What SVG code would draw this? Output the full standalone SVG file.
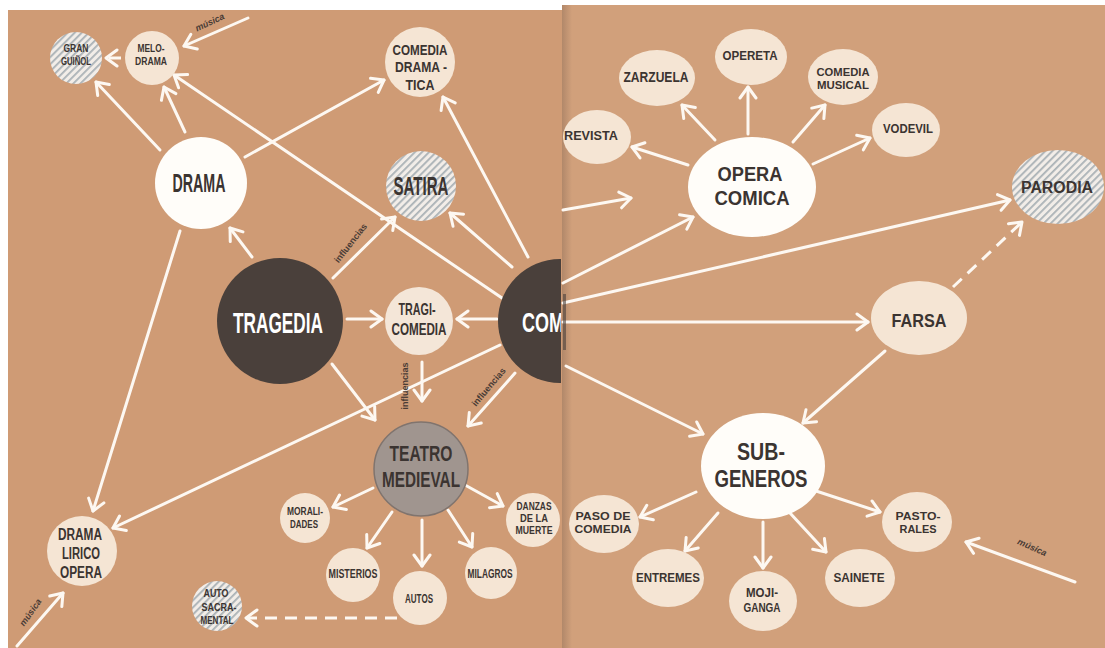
<svg xmlns="http://www.w3.org/2000/svg" width="1105" height="648" viewBox="0 0 1105 648">
<defs>
<style>
.t{font-family:"Liberation Sans",Arial,sans-serif;font-weight:bold;fill:#3b3431;text-anchor:middle}
.w{fill:#ffffff}
.lbl{font-family:"Liberation Sans",Arial,sans-serif;font-weight:bold;fill:#4a3c35;font-size:9px;text-anchor:middle}
.mus{font-family:"Liberation Sans",Arial,sans-serif;font-style:italic;font-weight:bold;fill:#4a3c35;font-size:9px;text-anchor:middle}
.c{stroke:#fdf8f2;stroke-width:3;fill:none;stroke-linecap:round;marker-end:url(#ah)}
.d{stroke-dasharray:12 8;stroke-linecap:butt}
.cream{fill:#f5e5d4}
.white{fill:#fffdf9}
.dark{fill:#4a403b}
.hat{fill:url(#hatch)}
</style>
<pattern id="hatch" patternUnits="userSpaceOnUse" width="5" height="5" patternTransform="rotate(45)">
<rect width="5" height="5" fill="#f2ede8"/>
<rect width="1.8" height="5" fill="#aab2b6"/>
</pattern>
<marker id="ah" viewBox="-14 -10 16 20" refX="0" refY="0" markerWidth="16" markerHeight="20" markerUnits="userSpaceOnUse" orient="auto">
<path d="M-11,-8 L0,0 L-11,8" fill="none" stroke="#fdf8f2" stroke-width="3" stroke-linecap="round" stroke-linejoin="round"/>
</marker>
<clipPath id="leftpage"><rect x="0" y="0" width="561" height="648"/></clipPath>
<clipPath id="rightpage"><rect x="563" y="0" width="542" height="648"/></clipPath>
<linearGradient id="fold" x1="0" x2="1" y1="0" y2="0">
<stop offset="0" stop-color="#8a6a55" stop-opacity="0.45"/>
<stop offset="1" stop-color="#8a6a55" stop-opacity="0"/>
</linearGradient>
</defs>

<rect x="0" y="0" width="1105" height="648" fill="#ffffff"/>
<rect x="8" y="10" width="554" height="638" fill="#cf9b75"/>
<rect x="562" y="5" width="543" height="643" fill="#d1a07b"/>
<rect x="562" y="5" width="10" height="643" fill="url(#fold)"/>

<g id="connectors">
<line class="c" x1="248" y1="18" x2="184" y2="46"/>
<line class="c d" x1="121" y1="58" x2="106" y2="58"/>
<line class="c" x1="160" y1="150" x2="96" y2="82"/>
<line class="c" x1="185" y1="132" x2="164" y2="87"/>
<line class="c" x1="502" y1="298" x2="174" y2="75"/>
<line class="c" x1="245" y1="157" x2="384" y2="80"/>
<line class="c" x1="528" y1="257" x2="443" y2="97"/>
<line class="c" x1="252" y1="257" x2="230" y2="228"/>
<line class="c" x1="333" y1="278" x2="395" y2="217"/>
<line class="c" x1="512" y1="267" x2="450" y2="213"/>
<line class="c" x1="180" y1="231" x2="93" y2="511"/>
<line class="c" x1="500" y1="345" x2="113" y2="528"/>
<line class="c" x1="347" y1="319" x2="382" y2="319"/>
<line class="c" x1="497" y1="319" x2="457" y2="319"/>
<line class="c" x1="422" y1="362" x2="422" y2="401"/>
<line class="c" x1="332" y1="364" x2="375" y2="420"/>
<line class="c" x1="515" y1="373" x2="468" y2="426"/>
<line class="c" x1="373" y1="488" x2="333" y2="507"/>
<line class="c" x1="392" y1="512" x2="367" y2="548"/>
<line class="c" x1="422" y1="520" x2="422" y2="566"/>
<line class="c" x1="448" y1="510" x2="472" y2="547"/>
<line class="c" x1="465" y1="485" x2="503" y2="506"/>
<line class="c d" x1="397" y1="618" x2="246" y2="618"/>
<line class="c" x1="17" y1="646" x2="63" y2="593"/>
<line class="c" x1="563" y1="210" x2="631" y2="198"/>
<line class="c" x1="563" y1="283" x2="693" y2="217"/>
<line class="c" x1="563" y1="303" x2="1010" y2="200"/>
<line class="c" x1="563" y1="322" x2="868" y2="322"/>
<line class="c" x1="566" y1="366" x2="703" y2="434"/>
<line class="c" x1="885" y1="351" x2="803" y2="423"/>
<line class="c d" x1="953" y1="287" x2="1022" y2="222"/>
<line class="c" x1="688" y1="165" x2="632" y2="147"/>
<line class="c" x1="715" y1="140" x2="682" y2="105"/>
<line class="c" x1="748" y1="134" x2="748" y2="87"/>
<line class="c" x1="793" y1="142" x2="825" y2="105"/>
<line class="c" x1="813" y1="164" x2="870" y2="138"/>
<line class="c" x1="696" y1="492" x2="640" y2="517"/>
<line class="c" x1="718" y1="513" x2="685" y2="551"/>
<line class="c" x1="763" y1="522" x2="763" y2="568"/>
<line class="c" x1="790" y1="513" x2="826" y2="552"/>
<line class="c" x1="813" y1="490" x2="880" y2="512"/>
<line class="c" x1="1075" y1="582" x2="966" y2="542"/>
</g>

<g id="labels">
<text class="mus" transform="translate(211,25) rotate(-25)">música</text>
<text class="mus" transform="translate(33,614) rotate(-55)">música</text>
<text class="mus" transform="translate(1031,550) rotate(24)">música</text>
<text class="lbl" transform="translate(353,245) rotate(-52)">influencias</text>
<text class="lbl" transform="translate(408,386) rotate(-90)">influencias</text>
<text class="lbl" transform="translate(491,389) rotate(-50)">influencias</text>
</g>

<g id="gran-guinol"><circle class="hat" cx="76" cy="58" r="26"/>
<text class="t" x="76" y="52" font-size="10" textLength="25" lengthAdjust="spacingAndGlyphs">GRAN</text>
<text class="t" x="76" y="65" font-size="10" textLength="30" lengthAdjust="spacingAndGlyphs">GUIÑOL</text></g>
<g id="melodrama"><circle class="cream" cx="152" cy="58" r="27"/>
<text class="t" x="151" y="52" font-size="10" textLength="27" lengthAdjust="spacingAndGlyphs">MELO-</text>
<text class="t" x="151" y="65" font-size="10" textLength="32" lengthAdjust="spacingAndGlyphs">DRAMA</text></g>
<g id="comedia-dramatica"><circle class="cream" cx="420" cy="62" r="35"/>
<text class="t" x="420" y="55" font-size="15" textLength="55" lengthAdjust="spacingAndGlyphs">COMEDIA</text>
<text class="t" x="421" y="72" font-size="15" textLength="52" lengthAdjust="spacingAndGlyphs">DRAMA -</text>
<text class="t" x="420" y="90" font-size="15" textLength="29" lengthAdjust="spacingAndGlyphs">TICA</text></g>
<g id="drama"><circle class="white" cx="201" cy="183" r="46"/>
<text class="t" x="199" y="192" font-size="25" textLength="53" lengthAdjust="spacingAndGlyphs">DRAMA</text></g>
<g id="satira"><circle class="hat" cx="421" cy="186" r="35"/>
<text class="t" x="421" y="195" font-size="25" textLength="55" lengthAdjust="spacingAndGlyphs">SATIRA</text></g>
<g id="tragedia"><circle class="dark" cx="280" cy="321" r="63"/>
<text class="t w" x="278" y="333" font-size="29" textLength="90" lengthAdjust="spacingAndGlyphs">TRAGEDIA</text></g>
<g id="tragicomedia"><circle cx="419" cy="321" r="34" fill="#f4e6d8"/>
<text class="t" x="417" y="315" font-size="17" textLength="37" lengthAdjust="spacingAndGlyphs">TRAGI-</text>
<text class="t" x="419" y="335" font-size="17" textLength="55" lengthAdjust="spacingAndGlyphs">COMEDIA</text></g>
<g id="comedia" clip-path="url(#leftpage)"><circle class="dark" cx="560" cy="321" r="62"/>
<text class="t w" x="522" y="332" font-size="28" textLength="42" lengthAdjust="spacingAndGlyphs" style="text-anchor:start">COM</text></g>
<g id="comedia-edge"><rect x="563" y="294" width="3" height="56" fill="#4a403b" opacity="0.6"/></g>
<g id="teatro-medieval"><circle cx="421" cy="469" r="47" fill="#a0958f" stroke="#80746e" stroke-width="1.5"/>
<text class="t" x="421" y="461" font-size="22" textLength="63" lengthAdjust="spacingAndGlyphs">TEATRO</text>
<text class="t" x="421" y="487" font-size="22" textLength="78" lengthAdjust="spacingAndGlyphs">MEDIEVAL</text></g>
<g id="moralidades"><circle class="cream" cx="305" cy="518" r="25"/>
<text class="t" x="305" y="515" font-size="11.5" textLength="36" lengthAdjust="spacingAndGlyphs">MORALI-</text>
<text class="t" x="304" y="528" font-size="11.5" textLength="28" lengthAdjust="spacingAndGlyphs">DADES</text></g>
<g id="danzas"><circle class="cream" cx="533" cy="520" r="27"/>
<text class="t" x="534" y="510" font-size="10" textLength="35" lengthAdjust="spacingAndGlyphs">DANZAS</text>
<text class="t" x="534" y="522" font-size="10" textLength="28" lengthAdjust="spacingAndGlyphs">DE LA</text>
<text class="t" x="534" y="534" font-size="10" textLength="37" lengthAdjust="spacingAndGlyphs">MUERTE</text></g>
<g id="misterios"><circle class="cream" cx="353" cy="575" r="27"/>
<text class="t" x="353" y="578" font-size="12" textLength="49" lengthAdjust="spacingAndGlyphs">MISTERIOS</text></g>
<g id="autos"><circle class="cream" cx="420" cy="598" r="27"/>
<text class="t" x="419" y="603" font-size="12" textLength="28" lengthAdjust="spacingAndGlyphs">AUTOS</text></g>
<g id="milagros"><circle class="cream" cx="491" cy="573" r="26"/>
<text class="t" x="490" y="578" font-size="12" textLength="45" lengthAdjust="spacingAndGlyphs">MILAGROS</text></g>
<g id="auto-sacramental"><circle class="hat" cx="217" cy="606" r="25"/>
<text class="t" x="216" y="597" font-size="11" textLength="25" lengthAdjust="spacingAndGlyphs">AUTO</text>
<text class="t" x="219" y="611" font-size="11" textLength="35" lengthAdjust="spacingAndGlyphs">SACRA-</text>
<text class="t" x="217" y="624" font-size="11" textLength="33" lengthAdjust="spacingAndGlyphs">MENTAL</text></g>
<g id="drama-lirico"><circle class="cream" cx="82" cy="551" r="35"/>
<text class="t" x="80" y="540" font-size="16" textLength="44" lengthAdjust="spacingAndGlyphs">DRAMA</text>
<text class="t" x="81" y="559" font-size="16" textLength="38" lengthAdjust="spacingAndGlyphs">LIRICO</text>
<text class="t" x="81" y="578" font-size="16" textLength="42" lengthAdjust="spacingAndGlyphs">OPERA</text></g>

<g id="revista" clip-path="url(#rightpage)"><ellipse class="cream" cx="597" cy="137" rx="34" ry="27"/>
<text class="t" x="591" y="140" font-size="12" textLength="54" lengthAdjust="spacingAndGlyphs">REVISTA</text></g>
<g id="zarzuela"><ellipse class="cream" cx="657" cy="78" rx="38" ry="28"/>
<text class="t" x="656" y="82" font-size="14" textLength="65" lengthAdjust="spacingAndGlyphs">ZARZUELA</text></g>
<g id="opereta"><ellipse class="cream" cx="751" cy="57" rx="36" ry="28"/>
<text class="t" x="750" y="60" font-size="13" textLength="55" lengthAdjust="spacingAndGlyphs">OPERETA</text></g>
<g id="comedia-musical"><ellipse class="cream" cx="843" cy="77" rx="35" ry="28"/>
<text class="t" x="843" y="76" font-size="11.5" textLength="53" lengthAdjust="spacingAndGlyphs">COMEDIA</text>
<text class="t" x="843" y="89" font-size="11.5" textLength="52" lengthAdjust="spacingAndGlyphs">MUSICAL</text></g>
<g id="vodevil"><ellipse class="cream" cx="906" cy="130" rx="34" ry="27"/>
<text class="t" x="908" y="133" font-size="13" textLength="50" lengthAdjust="spacingAndGlyphs">VODEVIL</text></g>
<g id="opera-comica"><ellipse class="white" cx="752" cy="187" rx="64" ry="50"/>
<text class="t" x="750" y="181" font-size="21" textLength="65" lengthAdjust="spacingAndGlyphs">OPERA</text>
<text class="t" x="752" y="205" font-size="21" textLength="75" lengthAdjust="spacingAndGlyphs">COMICA</text></g>
<g id="parodia"><ellipse class="hat" cx="1058" cy="187" rx="46" ry="37"/>
<text class="t" x="1057" y="193" font-size="16" textLength="72" lengthAdjust="spacingAndGlyphs">PARODIA</text></g>
<g id="farsa"><ellipse class="cream" cx="919" cy="318" rx="48" ry="37"/>
<text class="t" x="919" y="327" font-size="18" textLength="55" lengthAdjust="spacingAndGlyphs">FARSA</text></g>
<g id="subgeneros"><ellipse class="white" cx="763" cy="466" rx="62" ry="53"/>
<text class="t" x="761" y="460" font-size="23" textLength="48" lengthAdjust="spacingAndGlyphs">SUB-</text>
<text class="t" x="761" y="487" font-size="23" textLength="93" lengthAdjust="spacingAndGlyphs">GENEROS</text></g>
<g id="paso-de-comedia"><ellipse class="cream" cx="604" cy="524" rx="35" ry="29"/>
<text class="t" x="603" y="520" font-size="11.5" textLength="55" lengthAdjust="spacingAndGlyphs">PASO DE</text>
<text class="t" x="603" y="533" font-size="11.5" textLength="57" lengthAdjust="spacingAndGlyphs">COMEDIA</text></g>
<g id="entremes"><ellipse class="cream" cx="668" cy="578" rx="36" ry="29"/>
<text class="t" x="668" y="582" font-size="12" textLength="64" lengthAdjust="spacingAndGlyphs">ENTREMES</text></g>
<g id="mojiganga"><ellipse class="cream" cx="763" cy="601" rx="34" ry="30"/>
<text class="t" x="762" y="597" font-size="12" textLength="32" lengthAdjust="spacingAndGlyphs">MOJI-</text>
<text class="t" x="762" y="612" font-size="12" textLength="37" lengthAdjust="spacingAndGlyphs">GANGA</text></g>
<g id="sainete"><ellipse class="cream" cx="860" cy="578" rx="35" ry="29"/>
<text class="t" x="859" y="582" font-size="12" textLength="51" lengthAdjust="spacingAndGlyphs">SAINETE</text></g>
<g id="pastorales"><ellipse class="cream" cx="917" cy="522" rx="35" ry="30"/>
<text class="t" x="918" y="520" font-size="11.5" textLength="45" lengthAdjust="spacingAndGlyphs">PASTO-</text>
<text class="t" x="918" y="533" font-size="11.5" textLength="37" lengthAdjust="spacingAndGlyphs">RALES</text></g>
</svg>
